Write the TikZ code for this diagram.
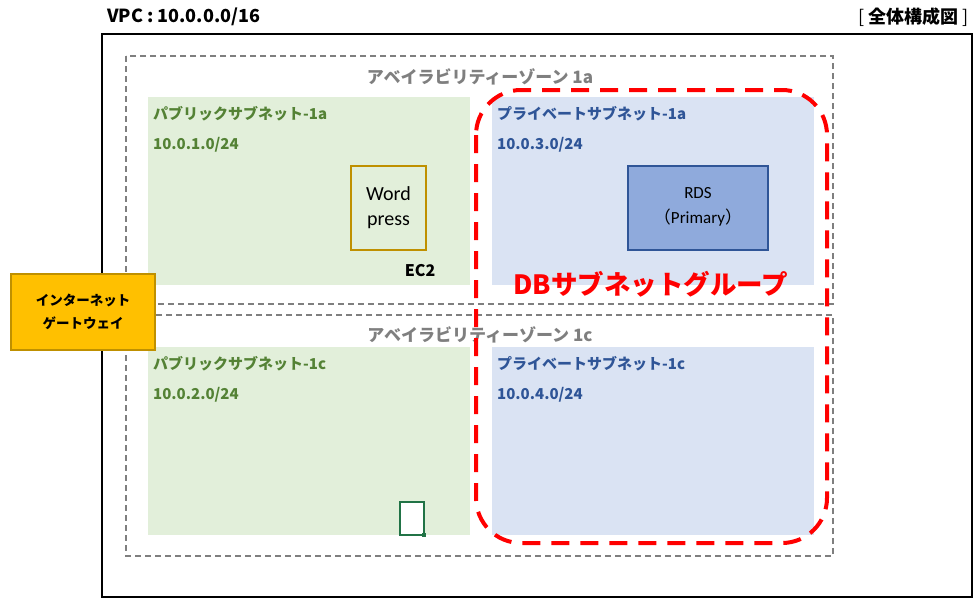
\documentclass[tikz,border=0pt]{standalone}
\usepackage{fontspec}
\setmainfont{Noto Sans CJK JP}
\newfontfamily\calfont{Carlito}
\newfontfamily\jpfont{Noto Sans CJK JP}
\usetikzlibrary{positioning}

\definecolor{pubfill}{HTML}{E2EFDA}
\definecolor{pubtext}{HTML}{548235}
\definecolor{prifill}{HTML}{DAE3F3}
\definecolor{pritext}{HTML}{2F5597}
\definecolor{rdsfill}{HTML}{8FAADC}
\definecolor{rdsline}{HTML}{2F5597}
\definecolor{igwfill}{HTML}{FFC000}
\definecolor{igwline}{HTML}{BF9000}
\definecolor{zonegray}{HTML}{7F7F7F}
\definecolor{ec2green}{HTML}{217346}

\tikzset{
  zonebox/.style={draw=zonegray,line width=1.5pt,dash pattern=on 6pt off 4pt},
  zonelabel/.style={font=\fontsize{17}{20}\selectfont\bfseries,text=zonegray,inner sep=0pt},
  sublabel/.style={font=\fontsize{15}{18}\selectfont\bfseries,anchor=west,inner sep=0pt},
  boxtext/.style={font=\calfont\fontsize{20}{25}\selectfont,align=center,inner sep=0pt}
}

\begin{document}
\begin{tikzpicture}[x=1pt,y=-1pt]
\useasboundingbox (0,0) rectangle (978,606);
\draw[fill=white,draw=none] (0,0) rectangle (978,606);

% vpc
\draw[black,line width=2pt] (102,34) rectangle (972,597);
\node[font=\fontsize{18}{20}\selectfont\bfseries,anchor=west,inner sep=0pt] (vpc) at (107,17) {VPC : 10.0.0.0/16};
\node[font=\fontsize{18}{20}\selectfont\bfseries,anchor=east,inner sep=0pt] (title) at (969,17) {{\mdseries [} 全体構成図 {\mdseries ]}};

% availability zones
\draw[zonebox] (126,56) rectangle (833,304);
\draw[zonebox] (126,315) rectangle (833,556);
\node[zonelabel] (az1a) at (480,77) {アベイラビリティーゾーン 1a};
\node[zonelabel] (az1c) at (480,335) {アベイラビリティーゾーン 1c};

% subnets
\draw[fill=pubfill,draw=none] (148,97) rectangle (470,285);
\draw[fill=pubfill,draw=none] (148,347) rectangle (470,535);
\draw[fill=prifill,draw=none] (492,97) rectangle (814,285);
\draw[fill=prifill,draw=none] (492,347) rectangle (814,535);
\node[sublabel,text=pubtext] (pub1a) at (153,114) {パブリックサブネット-1a};
\node[sublabel,text=pubtext] (pubcidr1a) at (153,145) {10.0.1.0/24};
\node[sublabel,text=pubtext] (pub1c) at (153,364) {パブリックサブネット-1c};
\node[sublabel,text=pubtext] (pubcidr1c) at (153,395) {10.0.2.0/24};
\node[sublabel,text=pritext] (pri1a) at (497,114) {プライベートサブネット-1a};
\node[sublabel,text=pritext] (pricidr1a) at (497,145) {10.0.3.0/24};
\node[sublabel,text=pritext] (pri1c) at (497,364) {プライベートサブネット-1c};
\node[sublabel,text=pritext] (pricidr1c) at (497,395) {10.0.4.0/24};

% ec2 and rds
\draw[fill=pubfill,draw=igwline,line width=1.5pt] (351,166) rectangle (426,250);
\node[boxtext] (wp) at (388.5,208) {Word\\press};
\node[font=\fontsize{16}{18}\selectfont\bfseries,inner sep=0pt] (ec2) at (420,271) {EC2};
\draw[fill=rdsfill,draw=rdsline,line width=1.5pt] (628,166) rectangle (768,250);
\node[boxtext,font=\calfont\fontsize{17}{25}\selectfont] (rds) at (698,207) {RDS\\{\jpfont （}Primary{\jpfont ）}};
\draw[fill=white,draw=ec2green,line width=1.5pt] (400,502) rectangle (424,535);
\draw[fill=ec2green,draw=none] (421.5,532.5) rectangle (426,537);

% internet gateway
\draw[fill=igwfill,draw=igwline,line width=1.5pt] (11,274) rectangle (155,350);
\node[font=\fontsize{13.5}{23}\selectfont\bfseries,align=center,inner sep=0pt] (igw) at (83,312) {インターネット\\ゲートウェイ};

% db subnet group
\draw[red,line width=4pt,dash pattern=on 18pt off 11pt,rounded corners=45pt] (476,90) rectangle (827,543);
\node[font=\fontsize{26.5}{30}\selectfont\bfseries,text=red,inner sep=0pt] (dbgroup) at (651,284) {DBサブネットグループ};

\end{tikzpicture}
\end{document}
